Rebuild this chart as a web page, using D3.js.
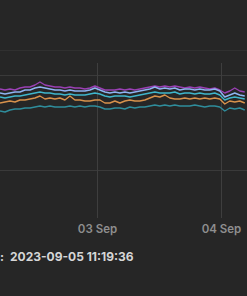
<!DOCTYPE html>
<html><head><meta charset="utf-8">
<script src="https://cdn.jsdelivr.net/npm/d3@7"></script>
<style>
html,body{margin:0;padding:0;background:#262626;overflow:hidden;}
svg{display:block;font-family:Inter,"Noto Sans",sans-serif;}
</style></head>
<body>
<script>
// Time window (x axis)
const startTime = "2023-09-02T05:14:00";
const stepMinutes = 58;
const xTickLabels = ["03 Sep", "04 Sep"];
const xTickDates = ["2023-09-03T00:00:00", "2023-09-04T00:00:00"];
const yGridValues = [48, 143, 168];
const seriesNames = ["purple", "blue", "cyan", "orange", "teal"];
const seriesColors = ["#9a40b4", "#8fb4f2", "#3fb6cc", "#d8924c", "#2f8d9c"];

const purple = [129,128,129,128,130,131,131,133,136,133,132,131,131,130,131,130,130,129,130,132,130,128,128,128,129,128,129,128,129,130,131,132,131,132,131,132,131,130,131,130,131,130,129,130,128,125,127,130,127,126];
const blue   = [125,124,125,126,126,128,128,130,131,130,129,128,128,127,128,127,127,127,128,130,128,126,125,126,125,126,125,126,127,128,129,131,129,130,129,130,128,129,129,128,129,128,128,129,127,121,123,125,123,122];
const cyan   = [121,120,121,122,122,123,124,125,126,125,125,124,124,123,124,123,123,123,124,125,124,122,121,122,122,122,121,122,123,124,125,126,125,125,125,126,124,125,125,124,125,124,124,125,123,118,120,121,120,119];
const orange = [115,116,117,116,118,118,119,120,122,119,120,119,120,118,122,118,118,117,117,118,118,115,115,117,115,117,118,117,117,118,120,122,121,123,120,119,119,120,119,120,119,120,119,120,119,114,117,116,117,115];
const teal   = [107,106,108,109,109,110,110,111,112,111,112,111,111,111,112,111,112,111,112,112,111,109,109,110,110,109,111,110,111,111,112,113,112,113,112,113,112,112,112,113,112,111,112,112,111,107,110,109,110,108];
const allSeries = [purple, blue, cyan, orange, teal];

const W = 247, H = 296;
const parse = d3.isoParse;
const t0 = parse(startTime);
const times = purple.map((_, i) => d3.timeMinute.offset(t0, i * stepMinutes));

const x = d3.scaleTime()
  .domain([t0, d3.timeMinute.offset(t0, Math.round(247 / 124 * 1440))])
  .range([0, W]);
const y = d3.scaleLinear().domain([0, 200]).range([218, 18]);

const svg = d3.select("body").append("svg").attr("width", W).attr("height", H);
svg.append("rect").attr("width", W).attr("height", H).attr("fill", "#262626");

// horizontal grid
svg.append("g").selectAll("line").data(yGridValues).join("line")
  .attr("x1", 0).attr("x2", W)
  .attr("y1", d => Math.round(y(d)) + 0.5).attr("y2", d => Math.round(y(d)) + 0.5)
  .attr("stroke", (d, i) => i === 2 ? "#303030" : "#3a3a3a").attr("stroke-width", 1);

// vertical grid + x axis labels
const xt = xTickDates.map(parse);
svg.append("g").selectAll("line").data(xt).join("line")
  .attr("x1", d => Math.round(x(d)) + 0.5).attr("x2", d => Math.round(x(d)) + 0.5)
  .attr("y1", 63).attr("y2", 218)
  .attr("stroke", "#3e3e3e").attr("stroke-width", 1);

const xAxis = d3.axisBottom(x).tickValues(xt)
  .tickFormat((d, i) => xTickLabels[i]).tickSize(0).tickPadding(0);
const gx = svg.append("g").attr("transform", "translate(0,225)").call(xAxis);
gx.select(".domain").remove();
gx.selectAll("text").attr("fill", "#8e8e8e").attr("font-size", 11.5)
  .attr("font-weight", 600).attr("font-family", "Inter, sans-serif");

// lines
const line = d3.line().x((d, i) => x(times[i])).y(d => y(d));
svg.append("g").selectAll("path").data(allSeries).join("path")
  .attr("d", d => line(d))
  .attr("fill", "none")
  .attr("stroke", (d, i) => seriesColors[i])
  .attr("stroke-width", 1.4)
  .attr("stroke-linejoin", "round");

// footer text
const ft = svg.append("text").attr("y", 261).attr("font-size", 12)
  .attr("font-weight", 700).attr("fill", "#d6d6d6");
ft.append("tspan").attr("x", 0).text(":");
ft.append("tspan").attr("x", 10).text("2023-09-05 11:19:36");
</script>
</body></html>
